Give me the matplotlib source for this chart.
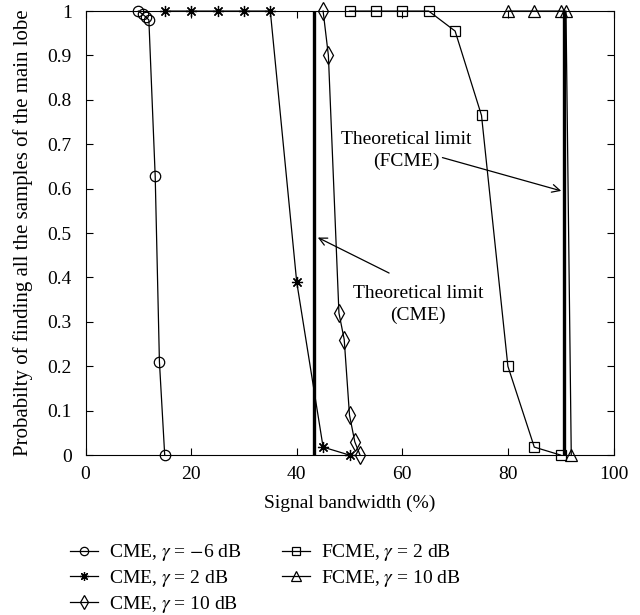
"""
Probability of finding all main-lobe samples vs. signal bandwidth (CME / FCME).
"""
import numpy as np
import matplotlib
matplotlib.use('Agg')
import matplotlib.pyplot as plt

matplotlib.rcParams.update({'font.size': 14,
                            'font.family': 'serif',
                            'font.serif': ['Liberation Serif', 'DejaVu Serif'],
                            'mathtext.fontset': 'stix'})

# data
cme_m6_x = [10, 10.8, 11.4, 12, 13.2, 14, 15]
cme_m6_y = [1.0, 0.993, 0.987, 0.98, 0.628, 0.21, 0.0]

cme_2_x = [15, 20, 25, 30, 35, 40, 45, 50]
cme_2_y = [1, 1, 1, 1, 1, 0.39, 0.018, 0.0]

cme_10_x = [45, 46, 48, 49, 50, 51, 52]
cme_10_y = [1.0, 0.9, 0.32, 0.26, 0.09, 0.03, 0.0]

fcme_2_x = [50, 55, 60, 65, 70, 75, 80, 85, 90]
fcme_2_y = [1, 1, 1, 1, 0.955, 0.765, 0.2, 0.018, 0.0]

fcme_10_x = [80, 85, 90, 91, 92]
fcme_10_y = [1, 1, 1, 1, 0]

limit_cme = 43.3
limit_fcme = 90.6

labels = [r'CME, $\gamma$ = $-$6 dB', r'CME, $\gamma$ = 2 dB', r'CME, $\gamma$ = 10 dB',
          r'FCME, $\gamma$ = 2 dB', r'FCME, $\gamma$ = 10 dB']

fig = plt.figure(figsize=(6.4, 6.15), dpi=100)
ax = fig.add_axes([0.1336, 0.260, 0.825, 0.722])

style = dict(color='black', lw=0.9, mfc='none', mec='black', mew=0.9, clip_on=False)
ax.plot(cme_m6_x, cme_m6_y, marker='o', ms=7.5, label=labels[0], **style)
ax.plot(cme_2_x, cme_2_y, marker=(8, 2, 0), ms=8, label=labels[1], **style)
ax.plot(cme_10_x, cme_10_y, marker='d', ms=9, label=labels[2], **style)
ax.plot(fcme_2_x, fcme_2_y, marker='s', ms=6.5, label=labels[3], **style)
ax.plot(fcme_10_x, fcme_10_y, marker='^', ms=9, label=labels[4], **style)

ax.axvline(limit_cme, color='black', lw=2.4)
ax.axvline(limit_fcme, color='black', lw=2.4)

ax.text(60.7, 0.685, 'Theoretical limit\n(FCME)', ha='center', va='center', linespacing=1.35)
ax.annotate('', xy=(90.1, 0.595), xytext=(67.6, 0.67),
            arrowprops=dict(arrowstyle='->', lw=0.9, color='black',
                            mutation_scale=14, shrinkA=0, shrinkB=0))
ax.text(63.0, 0.34, 'Theoretical limit\n(CME)', ha='center', va='center', linespacing=1.35)
ax.annotate('', xy=(44.0, 0.49), xytext=(57.5, 0.41),
            arrowprops=dict(arrowstyle='->', lw=0.9, color='black',
                            mutation_scale=14, shrinkA=0, shrinkB=0))

ax.set_xlim(0, 100)
ax.set_ylim(0, 1)
ax.set_xticks(range(0, 101, 20))
yt = np.arange(0, 1.01, 0.1)
ax.set_yticks(yt)
ax.set_yticklabels(['0'] + ['%.1f' % v for v in yt[1:-1]] + ['1'])
ax.tick_params(direction='in', top=True, right=True, length=5, width=0.8)
ax.tick_params(axis='y', pad=10)
ax.tick_params(axis='x', pad=8)
for s in ax.spines.values():
    s.set_linewidth(0.8)

ax.set_xlabel('Signal bandwidth (%)', labelpad=8)
ax.set_ylabel('Probabilty of finding all the samples of the main lobe', fontsize=15, labelpad=10)

fig.legend(loc='upper left', bbox_to_anchor=(0.109, 0.118), ncol=2, frameon=False,
           borderpad=0, borderaxespad=0,
           handlelength=1.45, columnspacing=2.1, labelspacing=0.25, handletextpad=0.55,
           markerscale=0.8)

fig.savefig('out.png')
